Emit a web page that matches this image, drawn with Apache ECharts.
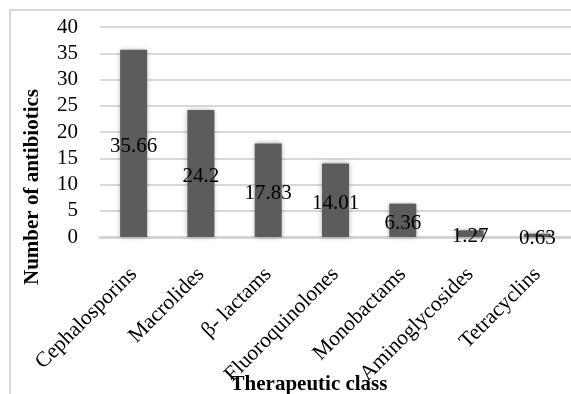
<!DOCTYPE html>
<html><head><meta charset="utf-8">
<script src="https://cdn.jsdelivr.net/npm/echarts@6/dist/echarts.min.js"></script>
<style>html,body{margin:0;padding:0;background:#fff;}#c{width:571px;height:394px;}</style>
</head><body><div id="c"></div>
<script>
const categories = ["Cephalosporins","Macrolides","β- lactams","Fluoroquinolones","Monobactams","Aminoglycosides","Tetracyclins"];
const values = [35.66, 24.2, 17.83, 14.01, 6.36, 1.27, 0.63];
const yTicks = [0,5,10,15,20,25,30,35,40];
const yTitle = "Number of antibiotics";
const xTitle = "Therapeutic class";

const chart = echarts.init(document.getElementById('c'), null, {renderer:'canvas'});
const font = "'Liberation Serif','Times New Roman',serif";
chart.setOption({
  animation:false,
  backgroundColor:'#fff',
  grid:{left:100, top:27, width:476, height:210, containLabel:false},
  xAxis:{type:'category', data:categories,
    axisLine:{lineStyle:{color:'#d4d4d4', width:3}},
    axisTick:{show:false},
    axisLabel:{rotate:45, interval:0, margin:34, fontFamily:font, fontSize:21.5, color:'#000'}},
  yAxis:{type:'value', min:yTicks[0], max:yTicks[yTicks.length-1], interval:5,
    axisLine:{show:false}, axisTick:{show:false},
    splitLine:{lineStyle:{color:'#d9d9d9', width:2}},
    axisLabel:{margin:22, fontFamily:font, fontSize:21, color:'#000'}},
  series:[{type:'bar', data:values, barWidth:27,
    itemStyle:{color:'#5c5c5c', shadowBlur:5, shadowColor:'rgba(0,0,0,0.35)'},
    label:{show:true, position:'inside', offset:[0,3], fontFamily:font, fontSize:21, color:'#000'}}],
  graphic:[
    {type:'rect', shape:{x:10,y:10,width:600,height:420}, style:{fill:'none', stroke:'#d9d9d9', lineWidth:2}, silent:true, z:-10},
    {type:'text', x:33, y:187, rotation:Math.PI/2, style:{text:yTitle, font:"bold 21px "+font, fill:'#000', textAlign:'center', textVerticalAlign:'middle'}},
    {type:'text', x:309, y:385, style:{text:xTitle, font:"bold 21px "+font, fill:'#000', textAlign:'center', textVerticalAlign:'middle'}}
  ]
});
</script></body></html>
